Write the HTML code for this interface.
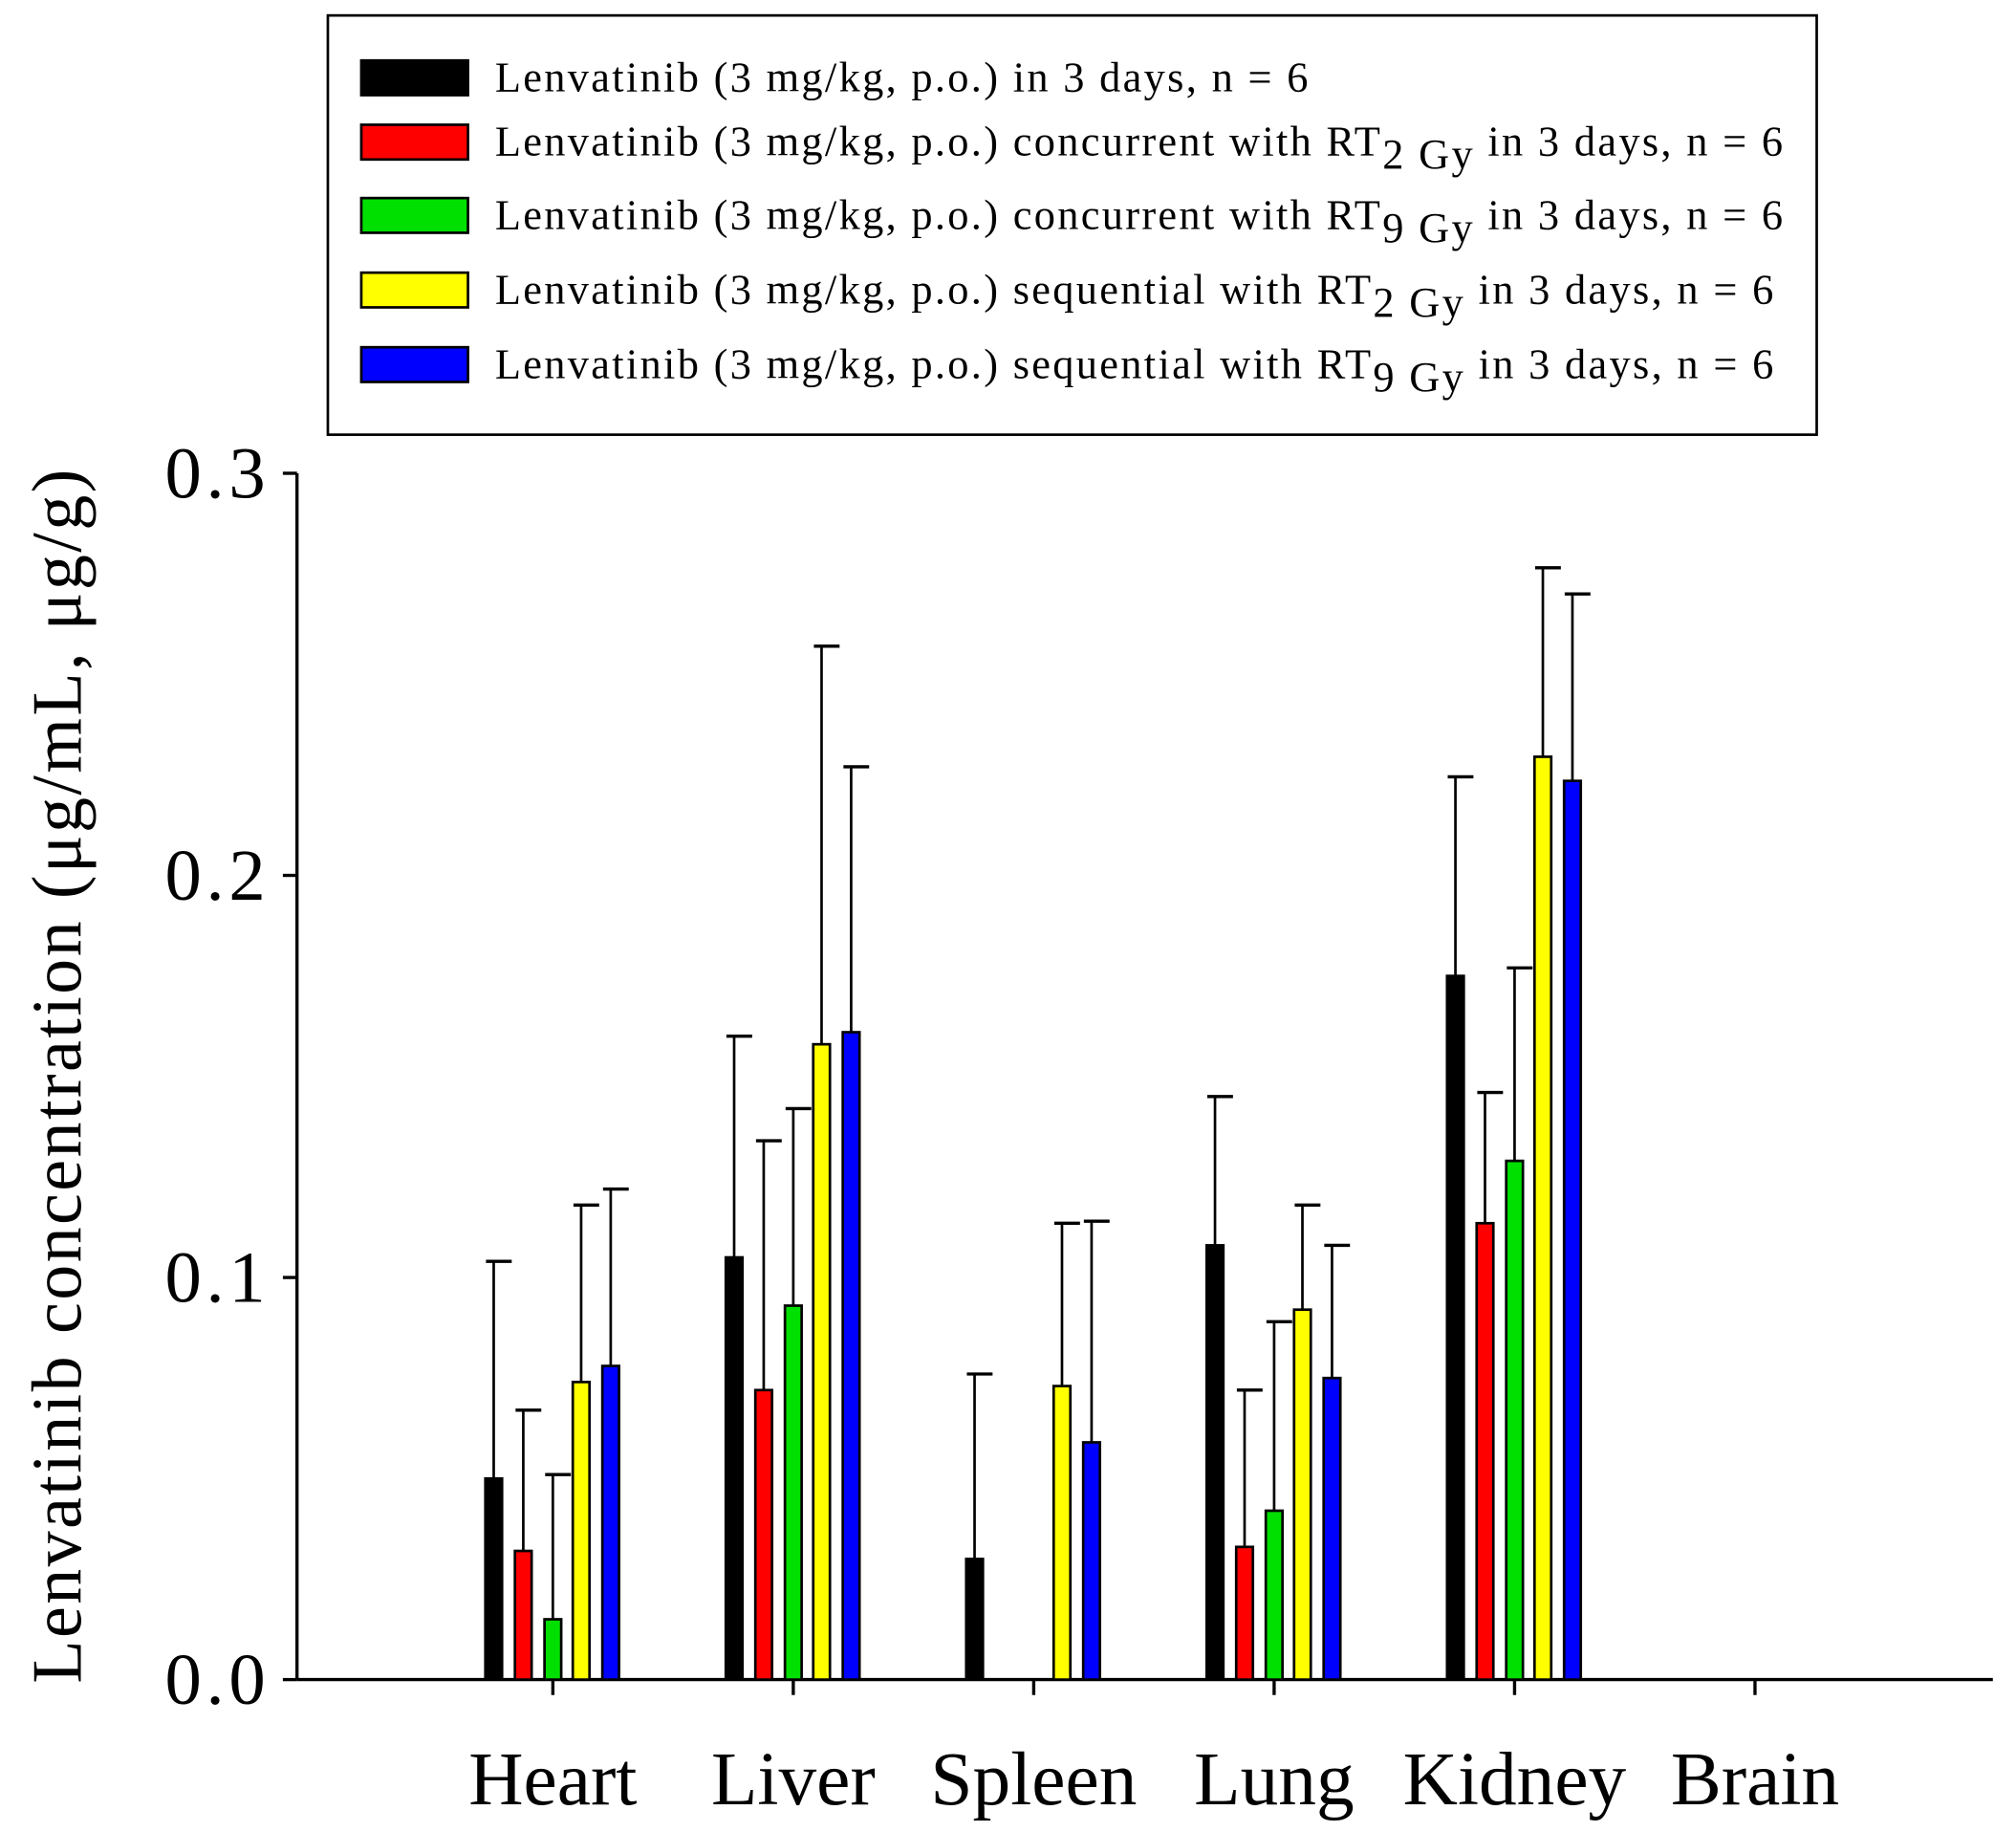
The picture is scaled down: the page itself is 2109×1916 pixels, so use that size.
<!DOCTYPE html>
<html><head><meta charset="utf-8"><style>html,body{margin:0;padding:0;background:#fff}svg{display:block}text{font-family:"Liberation Serif",serif;fill:#000}</style></head>
<body>
<svg width="2109" height="1916" viewBox="0 0 1568 1424.5">
<g id="legend">
<rect x="255" y="12" width="1158" height="326" fill="#fff" stroke="#000" stroke-width="2"/>
</g>
<g id="plot"></g>
<script>
const categories=["Heart","Liver","Spleen","Lung","Kidney","Brain"];
const seriesNames=["Lenvatinib (3 mg/kg, p.o.) in 3 days, n = 6","concurrent 2 Gy","concurrent 9 Gy","sequential 2 Gy","sequential 9 Gy"];
const colors=["#000000","#ff0000","#00e000","#ffff00","#0000ff"];
const s0=[0.050,0.105,0.030,0.108,0.175,0];
const s1=[0.032,0.072,0,0.033,0.1135,0];
const s2=[0.015,0.093,0,0.042,0.129,0];
const s3=[0.074,0.158,0.073,0.092,0.2295,0];
const s4=[0.078,0.161,0.059,0.075,0.2235,0];
const e0=[0.054,0.055,0.046,0.037,0.0495,0];
const e1=[0.035,0.062,0,0.039,0.0325,0];
const e2=[0.036,0.049,0,0.047,0.048,0];
const e3=[0.044,0.099,0.0405,0.026,0.047,0];
const e4=[0.044,0.066,0.055,0.033,0.0465,0];
const yTicks=[0.0,0.1,0.2,0.3];
const yTickLabels=["0.0","0.1","0.2","0.3"];
const series=[s0,s1,s2,s3,s4], errs=[e0,e1,e2,e3,e4];
const NS="http://www.w3.org/2000/svg";
const plot=document.getElementById('plot'), legend=document.getElementById('legend');
const X0=231,X1=1550,Y0=1306,Y3=368;
const y=v=>Y0-(v/0.3)*(Y0-Y3);
const xc=i=>430+i*187;
function mk(tag,attrs,parent){const e=document.createElementNS(NS,tag);for(const k in attrs)e.setAttribute(k,attrs[k]);parent.appendChild(e);return e;}
let ax=mk('line',{x1:X0,y1:Y3,x2:X0,y2:Y0,stroke:'#000','stroke-width':2.5},plot);


let bx=mk('line',{x1:X0,y1:Y0,x2:X1,y2:Y0,stroke:'#000','stroke-width':2.5},plot);


yTicks.forEach((t,i)=>{
  mk('line',{x1:X0-11,y1:y(t),x2:X0,y2:y(t),stroke:'#000','stroke-width':2.5},plot);
  const tx=mk('text',{x:210,y:y(t)+19,'text-anchor':'end','font-size':57,'letter-spacing':3.5},plot);
  tx.textContent=yTickLabels[i];
  
  
});
categories.forEach((c,i)=>{
  mk('line',{x1:xc(i),y1:Y0,x2:xc(i),y2:Y0+12,stroke:'#000','stroke-width':2.5},plot);
  const tx=mk('text',{x:xc(i),y:1403,'text-anchor':'middle','font-size':59},plot);
  tx.textContent=c;
  
  
});
const yt=mk('text',{x:0,y:0,'text-anchor':'middle','font-size':55,'letter-spacing':1.8,transform:'translate(63,836) rotate(-90)'},plot);
yt.textContent="Lenvatinib concentration (μg/mL, μg/g)";


const off=[-46,-23,0,22,45], bw=13;
categories.forEach((c,i)=>{
  series.forEach((s,k)=>{
    const v=s[i]; if(v<=0) return;
    const cx=xc(i)+off[k];
    const er=errs[k][i];
    if(er>0){
      const st=mk('line',{x1:cx,y1:y(v),x2:cx,y2:y(v+er),stroke:'#000','stroke-width':2},plot);
      
      
      mk('line',{x1:cx-6,y1:y(v+er),x2:cx+14,y2:y(v+er),stroke:'#000','stroke-width':2.5},plot);
    }
    const r=mk('rect',{x:cx-bw/2,y:y(v),width:bw,height:y(0)-y(v),fill:colors[k],stroke:'#000','stroke-width':2},plot);
    
    
  });
});
const legRows=[60,110,167,225,283];
const legParts=[["Lenvatinib (3 mg/kg, p.o.) in 3 days, n = 6",null,""],
["Lenvatinib (3 mg/kg, p.o.) concurrent with RT","2 Gy"," in 3 days, n = 6"],
["Lenvatinib (3 mg/kg, p.o.) concurrent with RT","9 Gy"," in 3 days, n = 6"],
["Lenvatinib (3 mg/kg, p.o.) sequential with RT","2 Gy"," in 3 days, n = 6"],
["Lenvatinib (3 mg/kg, p.o.) sequential with RT","9 Gy"," in 3 days, n = 6"]];
legRows.forEach((ry,k)=>{
  const sw=mk('rect',{x:281,y:ry-13,width:83,height:27,fill:colors[k],stroke:'#000','stroke-width':2},legend);
  
  
  const t=mk('text',{x:385,y:ry+11,'font-size':33,'letter-spacing':1.72},legend);
  
  
  const p=legParts[k];
  const a=mk('tspan',{},t); a.textContent=p[0];
  if(p[1]){const b=mk('tspan',{dy:10},t); b.textContent=p[1];
    const d=mk('tspan',{dy:-10},t); d.textContent=p[2];}
});
</script>
</svg>
</body></html>
